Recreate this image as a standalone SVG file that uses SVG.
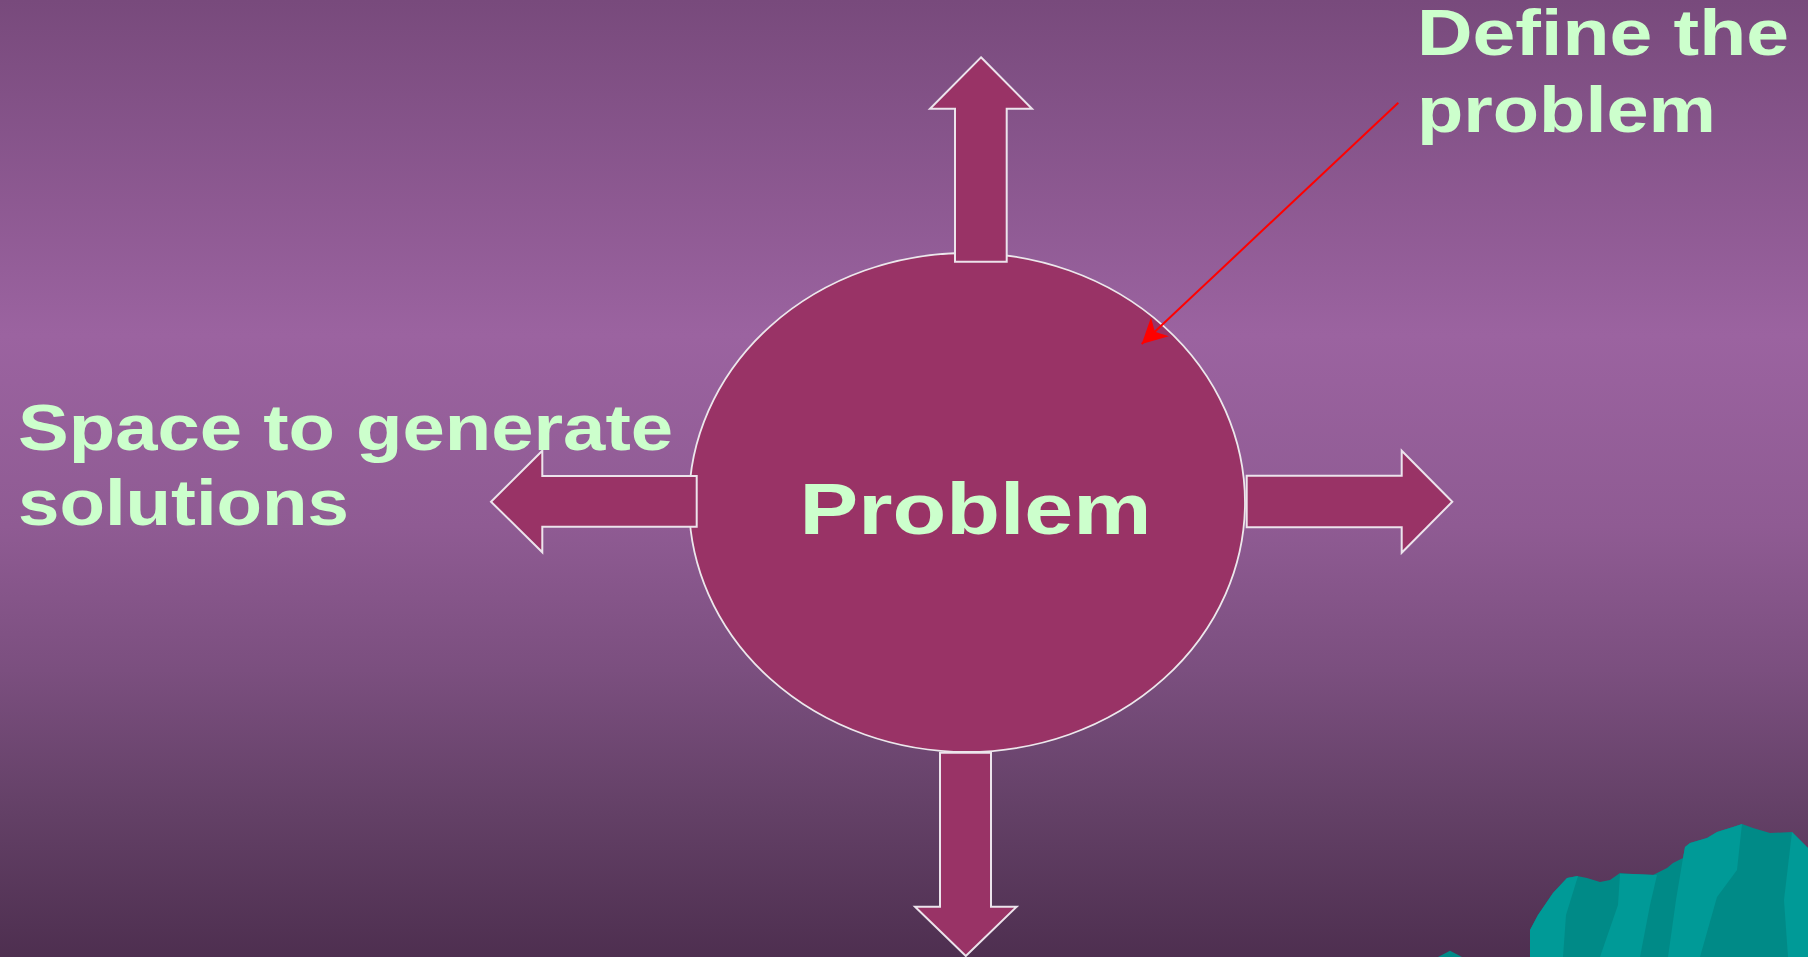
<svg xmlns="http://www.w3.org/2000/svg" width="1808" height="957" viewBox="0 0 1808 957">
  <defs>
    <linearGradient id="bg" x1="0" y1="0" x2="0" y2="1">
      <stop offset="0" stop-color="#784a7c"/>
      <stop offset="0.35" stop-color="#9b63a0"/>
      <stop offset="0.55" stop-color="#8f5b93"/>
      <stop offset="0.70" stop-color="#7b4f7f"/>
      <stop offset="0.85" stop-color="#634066"/>
      <stop offset="1" stop-color="#4e2f50"/>
    </linearGradient>
    <marker id="redHead" markerUnits="userSpaceOnUse" viewBox="0 0 25 26" refX="25" refY="13" markerWidth="25" markerHeight="26" orient="auto">
      <path d="M0,0 L25,13 L0,26 L7,13 Z" fill="#ff0000"/>
    </marker>
  </defs>
  <style>
    .shape { fill: #993366; stroke: #ece4ec; stroke-width: 2; stroke-linejoin: miter; }
    .ell { fill: #993366; stroke: #ece8ec; stroke-width: 1.8; }
    .lbl { font-family: "Liberation Sans", Arial, sans-serif; font-weight: bold; fill: #ccffcc; }
    .tealD { fill: #008a87; }
    .tealL { fill: #009a97; }
  </style>

  <rect id="background" x="0" y="0" width="1808" height="957" fill="url(#bg)"/>

  <g id="mountains">
    <polygon class="tealD" points="1438,957 1450,950.7 1462,957"/>
    <path class="tealD" d="M1530,957 L1530,930 L1538,915 L1553,893 L1567,878 L1577,876 L1587,878 L1600,882 L1610,880 L1620,873 L1633,874 L1653,875 L1667,868 L1673,863 L1683,858 L1685,847 L1690,843 L1707,838 L1717,832 L1733,827 L1742,824 L1753,828 L1770,833 L1792,832 L1798,838 L1808,848 L1808,957 Z"/>
    <path class="tealL" d="M1530,957 L1530,930 L1538,915 L1553,893 L1567,878 L1578,876 L1566,915 L1563,957 Z"/>
    <path class="tealL" d="M1600,957 L1618,905 L1620,874 L1633,874 L1657,875 L1650,905 L1640,957 Z"/>
    <path class="tealL" d="M1683,858 L1685,847 L1690,843 L1707,838 L1717,832 L1733,827 L1742,824 L1737,870 L1717,897 L1700,957 L1668,957 L1676,900 Z"/>
    <path class="tealL" d="M1792,832 L1798,838 L1808,848 L1808,957 L1788,957 L1784,900 Z"/>
  </g>

  <g id="node-problem">
    <ellipse class="ell" cx="967" cy="502.5" rx="278" ry="249.5"/>
    <text class="lbl" x="799.5" y="534.3" font-size="73" textLength="352" lengthAdjust="spacingAndGlyphs">Problem</text>
  </g>

  <g id="connectors">
    <polygon id="arrow-up" class="shape" points="981,57.3 1032,108.7 1006.7,108.7 1006.7,261.7 955,261.7 955,108.7 930,108.7"/>
    <polygon id="arrow-down" class="shape" points="940,752.7 991,752.7 991,906.7 1016.7,906.7 965.8,956 915,906.7 940,906.7"/>
    <polygon id="arrow-left" class="shape" points="696.7,476 542.3,476 542.3,450.7 491,501.7 542.3,552.3 542.3,526.7 696.7,526.7"/>
    <polygon id="arrow-right" class="shape" points="1246.7,475.7 1401.7,475.7 1401.7,450.7 1452.3,501.7 1401.7,552.7 1401.7,527.3 1246.7,527.3"/>
    <line id="pointer" x1="1398.3" y1="102.7" x2="1141.7" y2="344" stroke="#ff0000" stroke-width="2" marker-end="url(#redHead)"/>
  </g>

  <g id="label-define">
    <text class="lbl" x="1417" y="55" font-size="64" textLength="372" lengthAdjust="spacingAndGlyphs">Define the</text>
    <text class="lbl" x="1417" y="132" font-size="64" textLength="299" lengthAdjust="spacingAndGlyphs">problem</text>
  </g>

  <g id="label-space">
    <text class="lbl" x="18" y="450" font-size="64" textLength="655" lengthAdjust="spacingAndGlyphs">Space to generate</text>
    <text class="lbl" x="18" y="525" font-size="64" textLength="331" lengthAdjust="spacingAndGlyphs">solutions</text>
  </g>
</svg>
